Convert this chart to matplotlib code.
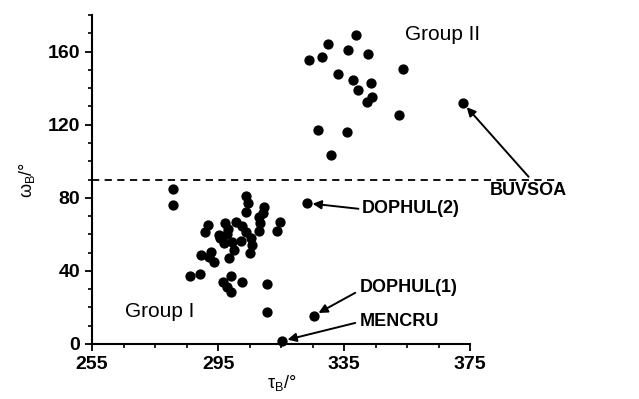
import matplotlib
matplotlib.use("Agg")
import matplotlib.pyplot as plt
from matplotlib.ticker import FixedLocator

plt.rcParams["font.family"] = ["Liberation Sans", "DejaVu Sans"]
plt.rcParams["mathtext.fontset"] = "custom"
plt.rcParams["mathtext.rm"] = "Liberation Sans"
plt.rcParams["mathtext.it"] = "Liberation Sans"

# Group I (tau_B, omega_B)
group1_tau = [280.6, 280.6, 303.9, 304.6, 303.7, 309.5, 309.2, 307.9, 308.2, 307.9,
              314.5, 313.8, 291.9, 290.8, 297.2, 300.8, 302.7, 303.7, 297.9, 295.5,
              296.9, 299.5, 302.3, 305.3, 305.8, 305.0, 300.0, 298.5, 289.5, 292.7,
              292.2, 293.7, 286.0, 289.2, 299.0, 296.4, 297.9, 299.0, 302.5, 310.6,
              310.6, 295.3, 298.0]
group1_omega = [84.9, 76.2, 81.1, 77.0, 72.5, 75.2, 71.5, 69.7, 66.1, 62.1,
                66.6, 62.1, 65.2, 61.5, 66.1, 66.6, 64.3, 61.5, 60.2, 57.9,
                55.1, 56.0, 56.4, 57.9, 54.2, 49.6, 51.5, 46.9, 48.7, 50.6,
                47.4, 45.1, 37.2, 38.1, 37.2, 34.1, 31.4, 28.6, 33.7, 32.9,
                17.7, 59.7, 63.0]

# Group II
group2_tau = [338.8, 330.0, 336.3, 323.7, 327.9, 342.7, 353.5, 333.0, 337.7, 343.5,
              339.3, 343.7, 342.2, 352.3, 326.6, 335.8, 330.9]
group2_omega = [168.9, 164.4, 161.1, 155.6, 156.9, 158.7, 150.3, 147.9, 144.5, 142.6,
                139.3, 135.3, 132.6, 125.1, 117.4, 116.3, 103.7]

# labelled structures: name, point, text position, arrow start
labels = ["BUVSOA", "DOPHUL(2)", "DOPHUL(1)", "MENCRU"]
label_tau = [372.7, 323.2, 325.3, 315.3]
label_omega = [131.9, 77.1, 15.5, 1.6]
text_tau = [381.3, 340.5, 340.0, 340.0]
text_omega = [84.0, 74.0, 31.0, 12.5]
arrow_tau = [393.5, 339.5, 338.5, 338.5]
arrow_omega = [91.5, 74.0, 28.0, 11.5]

xticks = [255, 295, 335, 375]
yticks = [0, 40, 80, 120, 160]

fig = plt.figure(figsize=(6.39, 3.99), dpi=100)
ax = fig.add_axes([0.144, 0.138, 0.592, 0.824])

ax.plot(group1_tau, group1_omega, "o", color="black", ms=6.4, clip_on=False)
ax.plot(group2_tau, group2_omega, "o", color="black", ms=6.4, clip_on=False)
ax.plot(label_tau, label_omega, "o", color="black", ms=6.4, clip_on=False)

ax.plot([255, 403], [90, 90], color="black", lw=1.3, ls=(0, (4, 3)), clip_on=False)

for name, px, py, tx, ty, ax0, ay0 in zip(labels, label_tau, label_omega,
                                          text_tau, text_omega, arrow_tau, arrow_omega):
    ax.text(tx, ty, name, fontsize=13, fontweight="bold", va="center", ha="left")
    ax.annotate("", xy=(px, py), xytext=(ax0, ay0), annotation_clip=False,
                arrowprops=dict(arrowstyle="-|>", color="black", lw=1.4,
                                mutation_scale=13, shrinkA=0, shrinkB=4))

ax.text(354.4, 169.6, "Group II", fontsize=15, va="center", ha="left")
ax.text(265.5, 17.5, "Group I", fontsize=15, va="center", ha="left")

ax.set_xlim(255, 375)
ax.set_ylim(0, 180)
ax.set_xticks(xticks)
ax.set_yticks(yticks)
ax.xaxis.set_minor_locator(FixedLocator(list(range(255, 376, 10))))
ax.yaxis.set_minor_locator(FixedLocator(list(range(0, 181, 10))))
ax.tick_params(which="major", length=5, width=1.3, labelsize=14)
ax.tick_params(which="minor", length=3, width=1.2)
for lab in ax.get_xticklabels() + ax.get_yticklabels():
    lab.set_fontweight("bold")

for side in ["top", "right"]:
    ax.spines[side].set_visible(False)
for side in ["left", "bottom"]:
    ax.spines[side].set_linewidth(1.5)

ax.set_xlabel(r"$\tau_{B}$/°", fontsize=13, labelpad=0)
ax.set_ylabel(r"$\omega_{B}$/°", fontsize=13, labelpad=8)

fig.savefig("out.png", dpi=100)
